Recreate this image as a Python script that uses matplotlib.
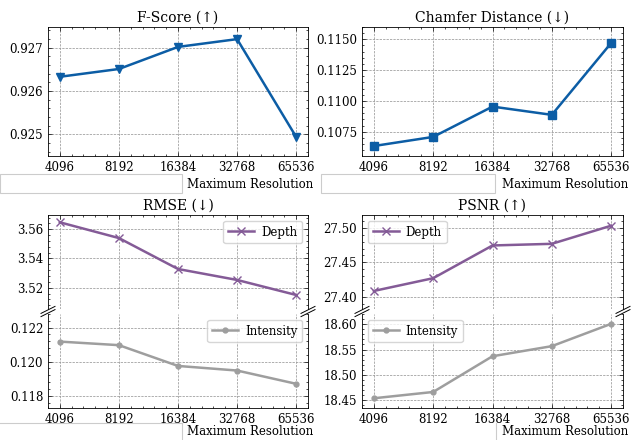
import matplotlib
matplotlib.use("Agg")
import matplotlib.pyplot as plt
from matplotlib.ticker import AutoMinorLocator, FormatStrFormatter, MultipleLocator
from matplotlib.patches import Rectangle
from matplotlib.lines import Line2D

resolutions = ["4096", "8192", "16384", "32768", "65536"]
fscore = [0.92633, 0.92651, 0.92702, 0.92720, 0.92494]
chamfer = [0.10634, 0.10708, 0.10954, 0.10887, 0.11470]
rmse_depth = [3.5648, 3.5540, 3.5328, 3.5253, 3.5150]
rmse_intensity = [0.12118, 0.12097, 0.11975, 0.11948, 0.11870]
psnr_depth = [27.4083, 27.4269, 27.4746, 27.4770, 27.5034]
psnr_intensity = [18.4533, 18.4658, 18.5367, 18.5567, 18.6010]

BLUE = "#0C5DA5"
PURPLE = "#845B97"
GREY = "#9e9e9e"

plt.rcParams["font.family"] = ["DejaVu Serif", "DejaVu Sans"]
plt.rcParams["font.size"] = 8
plt.rcParams["axes.linewidth"] = 0.6

W, H = 635, 440
fig = plt.figure(figsize=(W / 100, H / 100), dpi=100)

def rect(x0, y0, x1, y1):
    return [x0 / W, 1 - y1 / H, (x1 - x0) / W, (y1 - y0) / H]

x = list(range(len(resolutions)))

def style(ax, fmt, major, show_x=True, top=True, bottom=True):
    ax.set_xlim(-0.2, 4.2)
    ax.set_xticks(x)
    ax.set_xticklabels(resolutions if show_x else [])
    ax.xaxis.set_minor_locator(AutoMinorLocator(5))
    ax.yaxis.set_major_locator(MultipleLocator(major))
    ax.yaxis.set_minor_locator(AutoMinorLocator(5))
    ax.yaxis.set_major_formatter(FormatStrFormatter(fmt))
    ax.tick_params(which="both", direction="in", top=top, right=True,
                   bottom=bottom, labelsize=8.5, width=0.5)
    ax.tick_params(which="major", length=3)
    ax.tick_params(which="minor", length=1.5)
    ax.grid(True, which="major", linestyle=(0, (3, 1.5)), color="#999999", linewidth=0.55)
    ax.set_axisbelow(True)

# F-Score
ax1 = fig.add_axes(rect(48, 27, 308, 156))
ax1.plot(x, fscore, color=BLUE, marker="v", markersize=6, linewidth=1.8)
ax1.set_ylim(0.9245, 0.92748)
style(ax1, "%.3f", 0.001)
ax1.set_title("F-Score (↑)", fontsize=10, pad=4)
ax1.set_xlabel("Maximum Resolution", fontsize=8.5, ha="right")
ax1.xaxis.set_label_coords(1.02, -0.17)

# Chamfer
ax2 = fig.add_axes(rect(362, 27, 623, 156))
ax2.plot(x, chamfer, color=BLUE, marker="s", markersize=5.5, linewidth=1.8)
ax2.set_ylim(0.10553, 0.1160)
style(ax2, "%.4f", 0.0025)
ax2.set_title("Chamfer Distance (↓)", fontsize=10, pad=4)
ax2.set_xlabel("Maximum Resolution", fontsize=8.5, ha="right")
ax2.xaxis.set_label_coords(1.02, -0.17)

def broken(x0, x1, up_data, lo_data, up_lim, lo_lim, up_fmt, lo_fmt, up_major, lo_major,
           title, loc):
    au = fig.add_axes(rect(x0, 215, x1, 309))
    al = fig.add_axes(rect(x0, 314, x1, 408))
    au.plot(x, up_data, color=PURPLE, marker="x", markersize=5.5, linewidth=1.8, label="Depth")
    al.plot(x, lo_data, color=GREY, marker="o", markersize=3.5, linewidth=1.8, label="Intensity")
    au.set_ylim(*up_lim)
    al.set_ylim(*lo_lim)
    style(au, up_fmt, up_major, show_x=False, bottom=False)
    style(al, lo_fmt, lo_major, top=False)
    au.spines["bottom"].set_visible(False)
    al.spines["top"].set_visible(False)
    au.set_title(title, fontsize=10, pad=4)
    for a in (au, al):
        a.legend(loc=loc, fontsize=8.5, fancybox=True, framealpha=0.8,
                 borderpad=0.4, handlelength=2.2, handletextpad=0.6)
    al.set_xlabel("Maximum Resolution", fontsize=8.5, ha="right")
    al.xaxis.set_label_coords(1.02, -0.185)
    # break marks
    ymid = 1 - 311.5 / H
    for px in (x0, x1):
        for off in (-1.6, 1.6):
            fig.add_artist(Line2D([(px - 7) / W, (px + 7) / W],
                                  [ymid + (off - 3.5) / H, ymid + (off + 3.5) / H],
                                  color="k", linewidth=0.7, transform=fig.transFigure))
    return au, al

broken(48, 308, rmse_depth, rmse_intensity, (3.5054, 3.5698), (0.11728, 0.1228),
       "%.2f", "%.3f", 0.02, 0.002, "RMSE (↓)", "upper right")
broken(362, 623, psnr_depth, psnr_intensity, (27.382, 27.519), (18.434, 18.6205),
       "%.2f", "%.2f", 0.05, 0.05, "PSNR (↑)", "upper left")

# faint grey box remnants
lc = "#cccccc"
for (a, b, c, d) in [(0, 174, 182, 193), (321, 174, 495, 193)]:
    fig.add_artist(Rectangle((a / W, 1 - d / H), (c - a) / W, (d - b) / H,
                             fill=False, edgecolor=lc, linewidth=0.8,
                             transform=fig.transFigure))
fig.add_artist(Line2D([0, 182 / W], [1 - 423 / H, 1 - 423 / H], color=lc, linewidth=0.8,
                      transform=fig.transFigure))
fig.add_artist(Line2D([182 / W, 182 / W], [0, 1 - 423 / H], color=lc, linewidth=0.8,
                      transform=fig.transFigure))
fig.add_artist(Line2D([496 / W, 496 / W], [0, 1 - 423 / H], color=lc, linewidth=0.8,
                      transform=fig.transFigure))

fig.savefig("out.png", dpi=100)
